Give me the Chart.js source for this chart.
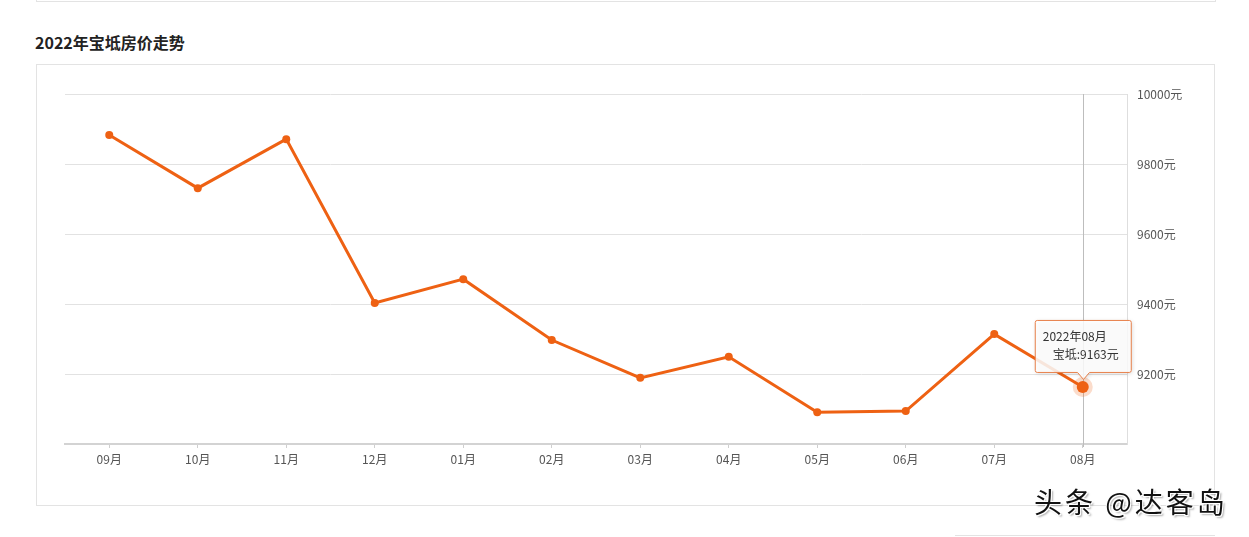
<!DOCTYPE html>
<html><head><meta charset="utf-8">
<script src="https://cdn.jsdelivr.net/npm/chart.js@4/dist/chart.umd.min.js"></script>
<style>
html,body{margin:0;padding:0;background:#fff;width:1249px;height:537px;overflow:hidden;font-family:"Noto Sans CJK SC","Noto Sans",sans-serif;}
.prev{position:absolute;left:36px;top:-10px;width:1178px;height:11px;border:1px solid #e3e3e3;border-top:none;}
.title{position:absolute;left:35px;top:30px;font-size:16px;font-weight:bold;color:#222;line-height:24px;}
.box{position:absolute;left:36px;top:64px;width:1177px;height:440px;border:1px solid #e3e3e3;}
.next{position:absolute;left:955px;top:535px;width:260px;height:10px;border-top:1px solid #e3e3e3;}
canvas{position:absolute;left:0;top:0;}
.wm{position:absolute;left:1034px;top:481px;font-size:28px;color:#111;letter-spacing:3px;text-shadow:1px 1px 0 #fff,-1px -1px 0 #fff,1px -1px 0 #fff,-1px 1px 0 #fff,2px 2px 2px rgba(0,0,0,.35);z-index:5;}
</style></head>
<body>
<div class="prev"></div>
<div class="title">2022年宝坻房价走势</div>
<div class="box"></div>
<div class="next"></div>
<canvas id="c" width="1249" height="537"></canvas>
<div class="wm">头条 @达客岛</div>
<script>
const months = ['09月','10月','11月','12月','01月','02月','03月','04月','05月','06月','07月','08月'];
const monthFull = ['2021年09月','2021年10月','2021年11月','2021年12月','2022年01月','2022年02月','2022年03月','2022年04月','2022年05月','2022年06月','2022年07月','2022年08月'];
const prices = [9883, 9731, 9871, 9403, 9471, 9297, 9189, 9249, 9091, 9094, 9314, 9163];
const seriesName = '宝坻';
const yMin = 9000, yMax = 10000, yStep = 200;
const activeIndex = 11;

const ORANGE = '#ee6113';
const FONT = '"Noto Sans CJK SC","Noto Sans",sans-serif';

const hoverPlugin = {
  id: 'hoverPlugin',
  beforeDatasetsDraw(chart) {
    const ctx = chart.ctx, area = chart.chartArea;
    const pt = chart.getDatasetMeta(0).data[activeIndex];
    ctx.save();
    ctx.strokeStyle = '#bdbdbd';
    ctx.lineWidth = 1;
    ctx.beginPath();
    ctx.moveTo(Math.round(pt.x) + 0.5, area.top);
    ctx.lineTo(Math.round(pt.x) + 0.5, area.bottom + 3);
    ctx.stroke();
    ctx.restore();
  },
  afterDatasetsDraw(chart) {
    const ctx = chart.ctx;
    const pt = chart.getDatasetMeta(0).data[activeIndex];
    ctx.save();
    ctx.fillStyle = 'rgba(238,97,19,0.22)';
    ctx.beginPath(); ctx.arc(pt.x, pt.y, 10, 0, Math.PI * 2); ctx.fill();
    ctx.fillStyle = ORANGE;
    ctx.beginPath(); ctx.arc(pt.x, pt.y, 6, 0, Math.PI * 2); ctx.fill();
    // tooltip
    const w = 96, h = 52;
    const left = pt.x - w / 2, bottom = pt.y - 15, top = bottom - h;
    ctx.shadowColor = 'rgba(0,0,0,0.18)';
    ctx.shadowBlur = 4;
    ctx.shadowOffsetX = 1; ctx.shadowOffsetY = 1;
    ctx.fillStyle = 'rgba(255,255,255,0.85)';
    ctx.strokeStyle = '#e8804a';
    ctx.lineWidth = 1;
    ctx.beginPath();
    const r = 2, L = left + 0.5, T = top + 0.5, R = left + w + 0.5, B = bottom + 0.5, cx = Math.round(pt.x) + 0.5;
    ctx.moveTo(L + r, T);
    ctx.lineTo(R - r, T); ctx.quadraticCurveTo(R, T, R, T + r);
    ctx.lineTo(R, B - r); ctx.quadraticCurveTo(R, B, R - r, B);
    ctx.lineTo(cx + 6, B); ctx.lineTo(cx, B + 7); ctx.lineTo(cx - 6, B);
    ctx.lineTo(L + r, B); ctx.quadraticCurveTo(L, B, L, B - r);
    ctx.lineTo(L, T + r); ctx.quadraticCurveTo(L, T, L + r, T);
    ctx.closePath();
    ctx.fill();
    ctx.shadowColor = 'transparent';
    ctx.stroke();
    ctx.fillStyle = '#333';
    ctx.font = '12px ' + FONT;
    ctx.textBaseline = 'middle';
    ctx.textAlign = 'left';
    ctx.fillText(monthFull[activeIndex], left + 8, top + 16);
    ctx.fillText(seriesName + ':' + prices[activeIndex] + '元', left + 18, top + 34);
    ctx.restore();
  }
};

new Chart(document.getElementById('c'), {
  type: 'line',
  data: {
    labels: months,
    datasets: [{
      label: seriesName,
      data: prices,
      borderColor: ORANGE,
      backgroundColor: ORANGE,
      borderWidth: 3,
      pointRadius: 4,
      pointBackgroundColor: ORANGE,
      pointBorderWidth: 0,
      tension: 0,
      fill: false
    }]
  },
  options: {
    responsive: false,
    animation: false,
    events: [],
    layout: { padding: { left: 65, top: 94, right: 52, bottom: 63 } },
    plugins: { legend: { display: false }, tooltip: { enabled: false } },
    scales: {
      x: {
        offset: true,
        grid: { drawOnChartArea: false, offset: false, tickLength: 4, color: '#cfcfcf' },
        border: { color: '#d3d3d3', width: 2 },
        ticks: { color: '#555', font: { size: 12, family: FONT }, padding: 4, maxRotation: 0 },
        afterFit(s) { s.height = 30; }
      },
      y: {
        position: 'right',
        min: yMin, max: yMax,
        grid: { color: '#e2e2e2', drawTicks: false },
        border: { display: true, color: '#dedede', width: 1 },
        ticks: {
          stepSize: yStep, color: '#555', padding: 10,
          font: { size: 12, family: FONT },
          callback: v => v === yMin ? '' : v + '元'
        },
        afterFit(s) { s.width = 70; }
      }
    }
  },
  plugins: [hoverPlugin]
});
</script>
</body></html>
